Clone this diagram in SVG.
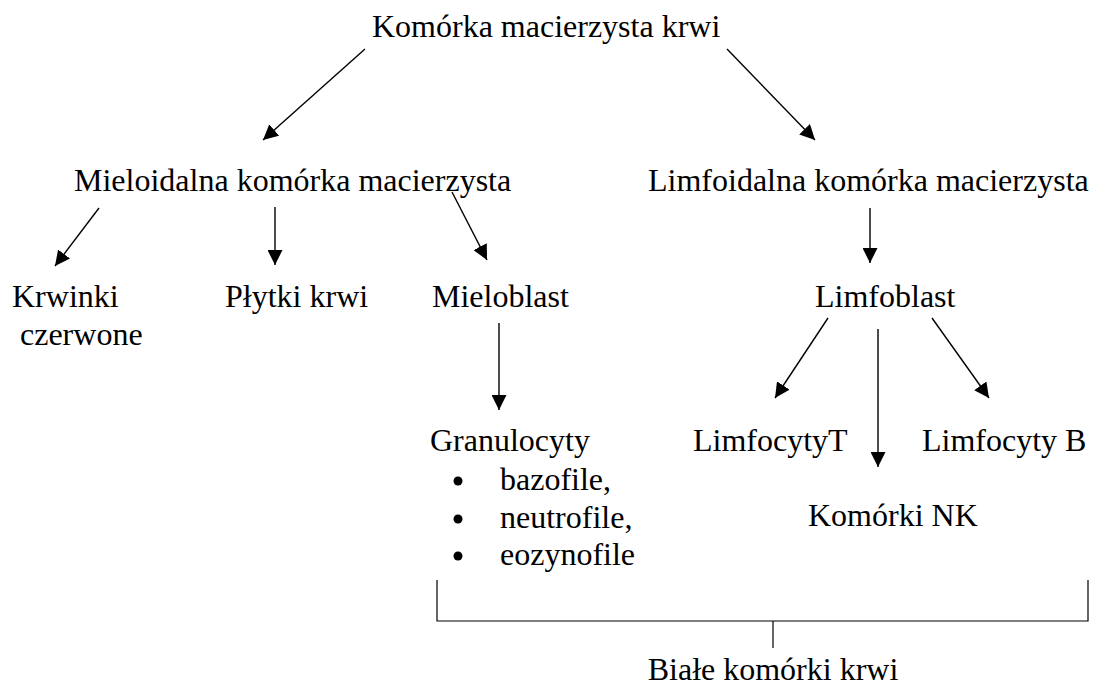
<svg xmlns="http://www.w3.org/2000/svg" width="1099" height="686" viewBox="0 0 1099 686">
<style>
text{font-family:"Liberation Serif","Times New Roman",serif;font-size:32px;fill:#000}
.m{text-anchor:middle}
.c{stroke:#000;stroke-width:1.4;fill:none;marker-end:url(#ah)}
.b{stroke:#000;stroke-width:1.2;fill:none}
</style>
<defs>
<marker id="ah" viewBox="0 0 15 15" refX="15" refY="7.5" markerWidth="15" markerHeight="15" markerUnits="userSpaceOnUse" orient="auto">
<path d="M0,0 L15,7.5 L0,15 z" fill="#000"/>
</marker>
</defs>
<rect width="1099" height="686" fill="#fff"/>
<g id="connectors">
<line class="c" x1="365" y1="49" x2="263" y2="140"/>
<line class="c" x1="727" y1="49" x2="815" y2="140"/>
<line class="c" x1="99" y1="208" x2="55" y2="266"/>
<line class="c" x1="275" y1="207" x2="275" y2="265"/>
<line class="c" x1="452" y1="192" x2="487" y2="260"/>
<line class="c" x1="870" y1="208" x2="870" y2="263"/>
<line class="c" x1="499" y1="323" x2="499" y2="410"/>
<line class="c" x1="828" y1="318" x2="775" y2="398"/>
<line class="c" x1="878" y1="329" x2="878" y2="467"/>
<line class="c" x1="932" y1="318" x2="989" y2="398"/>
<path class="b" d="M437,580 V621 H1088 V580 M773,621 V648"/>
</g>
<g id="n-stem"><text x="372" y="37">Komórka macierzysta krwi</text></g>
<g id="n-mieloid"><text x="74" y="191">Mieloidalna komórka macierzysta</text></g>
<g id="n-limfoid"><text x="648" y="191">Limfoidalna komórka macierzysta</text></g>
<g id="n-krwinki"><text x="12" y="307">Krwinki</text><text x="20" y="345">czerwone</text></g>
<g id="n-plytki"><text x="225" y="307">Płytki krwi</text></g>
<g id="n-mieloblast"><text x="432" y="307">Mieloblast</text></g>
<g id="n-limfoblast"><text x="815" y="307">Limfoblast</text></g>
<g id="n-granulocyty">
<text x="430" y="451">Granulocyty</text>
<circle cx="458" cy="481" r="4.5"/><text x="500" y="490">bazofile,</text>
<circle cx="458" cy="519" r="4.5"/><text x="500" y="528">neutrofile,</text>
<circle cx="458" cy="556" r="4.5"/><text x="500" y="565">eozynofile</text>
</g>
<g id="n-limfT"><text x="693" y="451">LimfocytyT</text></g>
<g id="n-limfB"><text x="922" y="451">Limfocyty B</text></g>
<g id="n-nk"><text x="808" y="526">Komórki NK</text></g>
<g id="n-biale"><text class="m" x="773" y="680">Białe komórki krwi</text></g>
</svg>
